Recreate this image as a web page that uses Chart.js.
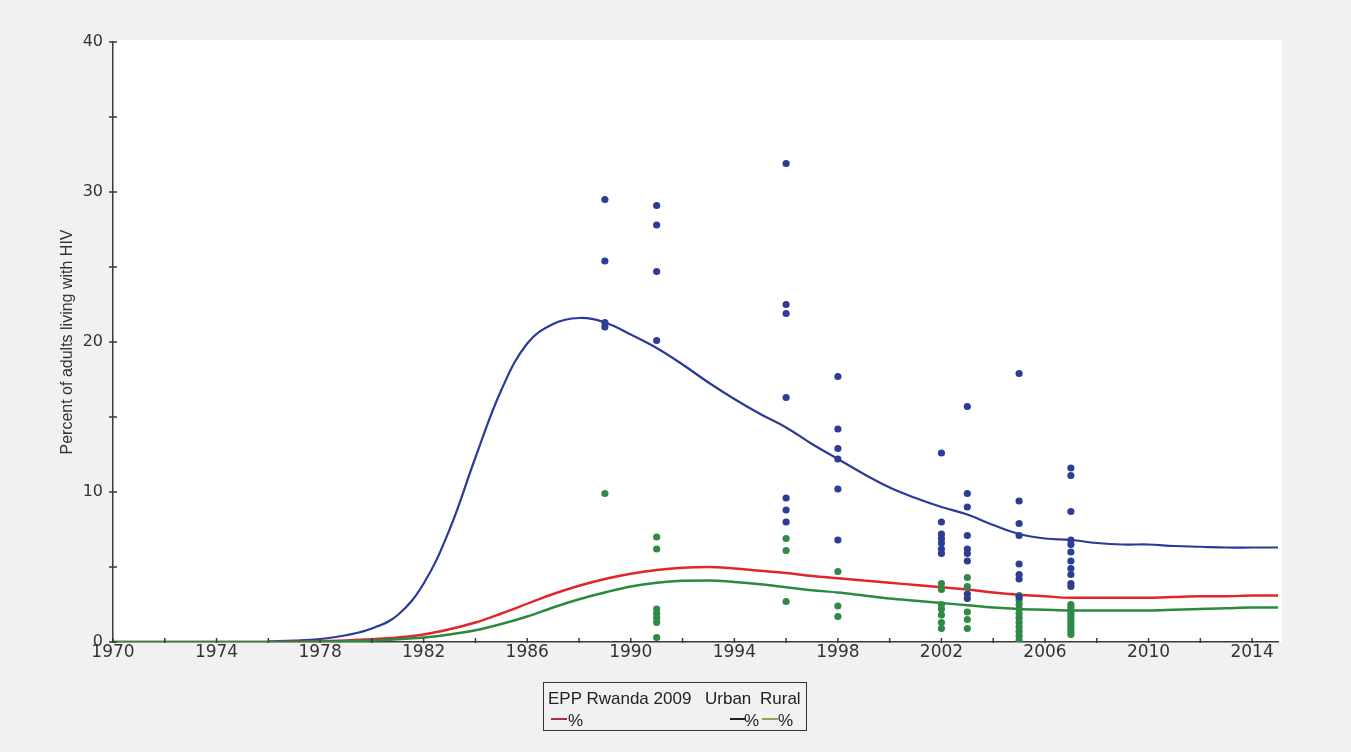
<!DOCTYPE html>
<html>
<head>
<meta charset="utf-8">
<script src="https://cdn.jsdelivr.net/npm/chart.js@4"></script>
<style>
  html, body { margin: 0; padding: 0; background: #f0f1f0; }
  #wrap { position: relative; width: 1351px; height: 752px; }
  #legend {
    position: absolute; left: 543px; top: 682px; width: 262px; height: 47px;
    border: 1.5px solid #333; font-family: "Liberation Sans", Arial, sans-serif;
    font-size: 17px; color: #222;
  }
  #legend span { position: absolute; white-space: nowrap; }
  #legend .dash { height: 2px; width: 16px; }
</style>
</head>
<body>
<div id="wrap">
  <canvas id="hivChart" width="1351" height="752"></canvas>
  <div id="legend">
    <span style="left:4px; top:6px;">EPP Rwanda 2009</span>
    <span style="left:161px; top:6px;">Urban</span>
    <span style="left:216px; top:6px;">Rural</span>
    <span class="dash" style="left:7px; top:35px; background:#b0303c;"></span>
    <span style="left:24px; top:28px;">%</span>
    <span class="dash" style="left:186px; top:35px; background:#222;"></span>
    <span style="left:200px; top:28px;">%</span>
    <span class="dash" style="left:218px; top:35px; background:#97a060;"></span>
    <span style="left:234px; top:28px;">%</span>
  </div>
</div>
<script>
// model years and fitted curves (percent of adults)
const years = [1970, 1971, 1972, 1973, 1974, 1975, 1976, 1977, 1978, 1979,
  1980, 1981, 1982, 1983, 1984, 1985, 1986, 1987, 1988, 1989,
  1990, 1991, 1992, 1993, 1994, 1995, 1996, 1997, 1998, 1999,
  2000, 2001, 2002, 2003, 2004, 2005, 2006, 2007, 2008, 2009,
  2010, 2011, 2012, 2013, 2014, 2015];

// urban curve only starts in 1976
const urbanCurve = [null, null, null, null, null, null, 0.05, 0.1, 0.2, 0.45,
  0.9, 1.8, 3.9, 7.5, 12.3, 16.8, 19.9, 21.2, 21.6, 21.3,
  20.5, 19.6, 18.5, 17.3, 16.2, 15.2, 14.3, 13.2, 12.2, 11.2,
  10.3, 9.6, 9.0, 8.5, 7.8, 7.2, 6.9, 6.8, 6.6, 6.5,
  6.5, 6.4, 6.35, 6.3, 6.3, 6.3];

const nationalCurve = [0, 0, 0, 0, 0, 0, 0, 0.02, 0.05, 0.1,
  0.18, 0.3, 0.5, 0.85, 1.3, 1.9, 2.55, 3.2, 3.75, 4.2,
  4.55, 4.8, 4.95, 5.0, 4.9, 4.75, 4.6, 4.4, 4.25, 4.1,
  3.95, 3.8, 3.65, 3.5, 3.3, 3.15, 3.05, 2.95, 2.95, 2.95,
  2.95, 3.0, 3.05, 3.05, 3.1, 3.1];

const ruralCurve = [0, 0, 0, 0, 0, 0, 0, 0, 0.03, 0.06,
  0.1, 0.18, 0.3, 0.5, 0.78, 1.2, 1.7, 2.3, 2.85, 3.3,
  3.7, 3.95, 4.08, 4.1, 4.0, 3.85, 3.65, 3.45, 3.3, 3.1,
  2.9, 2.75, 2.6, 2.45, 2.3, 2.2, 2.15, 2.1, 2.1, 2.1,
  2.1, 2.15, 2.2, 2.25, 2.3, 2.3];

// surveillance site observations, grouped by survey year
const obsYears = [1989, 1991, 1996, 1998, 2002, 2003, 2005, 2007];

const urbanObs = [
  [29.5, 25.4, 21.3, 21.0],
  [29.1, 27.8, 24.7, 20.1],
  [31.9, 22.5, 21.9, 16.3, 9.6, 8.8, 8.0],
  [17.7, 14.2, 12.9, 12.2, 10.2, 6.8],
  [12.6, 8.0, 7.2, 6.9, 6.6, 6.2, 5.9],
  [15.7, 9.9, 9.0, 7.1, 6.2, 5.9, 5.4, 3.2, 2.9],
  [17.9, 9.4, 7.9, 7.1, 5.2, 4.5, 4.2, 3.0],
  [11.6, 11.1, 8.7, 6.8, 6.5, 6.0, 5.4, 4.9, 4.5, 3.9, 3.7]
];

const ruralObs = [
  [9.9],
  [7.0, 6.2, 2.2, 1.9, 1.6, 1.3, 0.3],
  [6.9, 6.1, 2.7],
  [4.7, 2.4, 1.7],
  [3.9, 3.5, 2.5, 2.2, 1.8, 1.3, 0.9],
  [4.3, 3.7, 2.0, 1.5, 0.9],
  [3.1, 2.8, 2.5, 2.2, 1.9, 1.6, 1.3, 1.0, 0.7, 0.4, 0.1],
  [2.5, 2.3, 2.1, 1.9, 1.7, 1.5, 1.3, 1.1, 0.9, 0.7, 0.5]
];

const yTicksLabelled = [0, 10, 20, 30, 40];
const xTickValues = [1970, 1972, 1974, 1976, 1978, 1980, 1982, 1984, 1986, 1988,
  1990, 1992, 1994, 1996, 1998, 2000, 2002, 2004, 2006, 2008, 2010, 2012, 2014];
const xTicksLabelled = [1970, 1974, 1978, 1982, 1986, 1990, 1994, 1998, 2002, 2006, 2010, 2014];

function curvePoints(values) {
  return years.map((yr, i) => ({ x: yr, y: values[i] }));
}

function obsPoints(groups) {
  const pts = [];
  groups.forEach((vals, i) => {
    vals.forEach(v => pts.push({ x: obsYears[i], y: v }));
  });
  return pts;
}

// white plotting area
const plotBackground = {
  id: 'plotBackground',
  beforeDraw(chart) {
    const { ctx, chartArea: a } = chart;
    ctx.save();
    ctx.fillStyle = '#ffffff';
    ctx.fillRect(a.left, a.top - 2, a.right - a.left + 4, a.bottom - a.top + 2);
    ctx.restore();
  }
};

// short tick marks on the axis lines
const axisTicks = {
  id: 'axisTicks',
  afterDraw(chart) {
    const { ctx, chartArea: a, scales } = chart;
    ctx.save();
    ctx.strokeStyle = '#3a3a3a';
    ctx.lineWidth = 1.5;
    ctx.beginPath();
    scales.y.ticks.forEach(t => {
      const py = scales.y.getPixelForValue(t.value);
      ctx.moveTo(a.left - 4, py);
      ctx.lineTo(a.left + 4, py);
    });
    scales.x.ticks.forEach(t => {
      const px = scales.x.getPixelForValue(t.value);
      ctx.moveTo(px, a.bottom - 4);
      ctx.lineTo(px, a.bottom + 1);
    });
    ctx.stroke();
    ctx.restore();
  }
};

const tickFont = { family: 'DejaVu Sans', size: 16 };
const xTickFont = { family: 'DejaVu Sans', size: 17 };

new Chart(document.getElementById('hivChart').getContext('2d'), {
  type: 'scatter',
  data: {
    datasets: [
      {
        label: 'Urban observations',
        data: obsPoints(urbanObs),
        backgroundColor: '#2e3d94',
        borderColor: '#2e3d94',
        pointRadius: 3.6,
        pointBorderWidth: 0,
        order: 0
      },
      {
        label: 'Rural observations',
        data: obsPoints(ruralObs),
        backgroundColor: '#2f8a45',
        borderColor: '#2f8a45',
        pointRadius: 3.6,
        pointBorderWidth: 0,
        order: 0
      },
      {
        type: 'line',
        label: 'Urban',
        data: curvePoints(urbanCurve),
        borderColor: '#2b3a98',
        borderWidth: 2.2,
        pointRadius: 0,
        tension: 0.4,
        order: 3
      },
      {
        type: 'line',
        label: 'EPP Rwanda 2009',
        data: curvePoints(nationalCurve),
        borderColor: '#e0262a',
        borderWidth: 2.4,
        pointRadius: 0,
        cubicInterpolationMode: 'monotone',
        order: 2
      },
      {
        type: 'line',
        label: 'Rural',
        data: curvePoints(ruralCurve),
        borderColor: '#2b8a3e',
        borderWidth: 2.4,
        pointRadius: 0,
        cubicInterpolationMode: 'monotone',
        order: 1
      }
    ]
  },
  options: {
    responsive: false,
    animation: false,
    layout: { padding: { left: 58, top: 42, right: 73, bottom: 0 } },
    plugins: {
      legend: { display: false },
      tooltip: { enabled: false }
    },
    scales: {
      x: {
        type: 'linear',
        min: 1970,
        max: 2015,
        afterBuildTicks: s => { s.ticks = xTickValues.map(v => ({ value: v })); },
        afterFit: s => { s.height = 110; },
        ticks: {
          autoSkip: false,
          maxRotation: 0,
          padding: 0,
          color: '#333',
          font: xTickFont,
          callback: v => xTicksLabelled.includes(v) ? String(v) : ''
        },
        grid: { display: false, drawTicks: false },
        border: { display: true, color: '#3a3a3a', width: 1.5 }
      },
      y: {
        min: 0,
        max: 40,
        afterFit: s => { s.width = 55; },
        ticks: {
          stepSize: 5,
          padding: 10,
          color: '#333',
          font: tickFont,
          callback: v => yTicksLabelled.includes(v) ? String(v) : ''
        },
        grid: { display: false, drawTicks: false },
        border: { display: true, color: '#3a3a3a', width: 1.5 },
        title: {
          display: true,
          text: 'Percent of adults living with HIV',
          color: '#333',
          padding: 0,
          font: { family: 'Liberation Sans', size: 16 }
        }
      }
    }
  },
  plugins: [plotBackground, axisTicks]
});
</script>
</body>
</html>
